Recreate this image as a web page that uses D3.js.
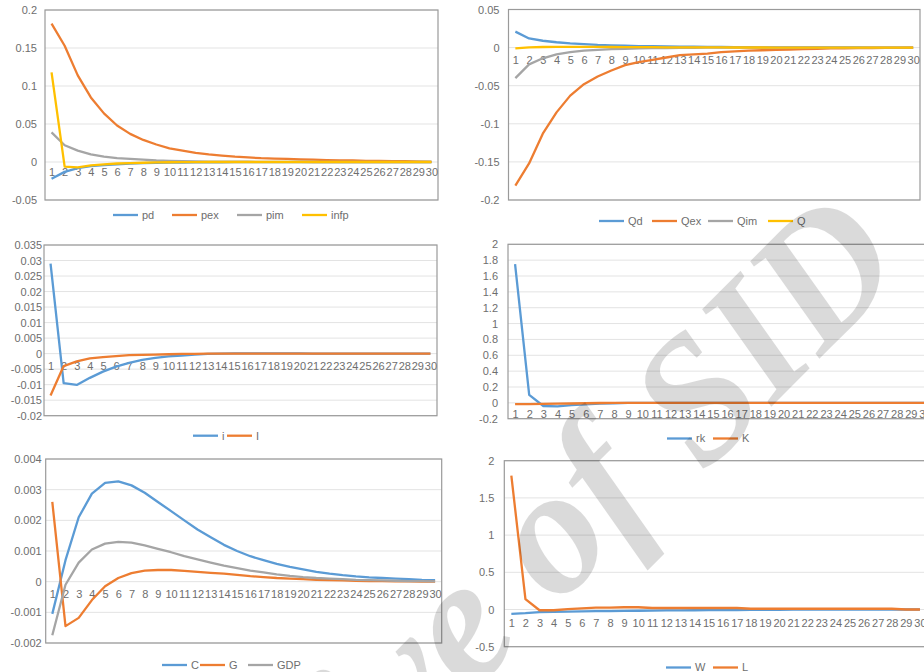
<!DOCTYPE html>
<html>
<head>
<meta charset="utf-8">
<script src="https://cdn.jsdelivr.net/npm/d3@7"></script>
<style>
  body { margin: 0; background: #fff; }
  svg { display: block; }
</style>
</head>
<body>
<svg width="924" height="672"></svg>
<script>
// periods on the x axis
var periods = [1,2,3,4,5,6,7,8,9,10,11,12,13,14,15,16,17,18,19,20,21,22,23,24,25,26,27,28,29,30];

// prices
var pd   = [-0.022,-0.013,-0.008,-0.0055,-0.004,-0.003,-0.0022,-0.0016,-0.0012,-0.0009,-0.0007,-0.0005,-0.0004,-0.0003,-0.0002,-0.0002,-0.0001,-0.0001,-0.0001,0,0,0,0,0,0,0,0,0,0,0];
var pex  = [0.182,0.153,0.114,0.085,0.064,0.048,0.037,0.029,0.023,0.018,0.015,0.012,0.010,0.0085,0.007,0.006,0.005,0.0045,0.004,0.0035,0.003,0.0025,0.002,0.002,0.0015,0.0013,0.001,0.001,0.0005,0.0002];
var pim  = [0.039,0.022,0.015,0.010,0.007,0.005,0.004,0.003,0.002,0.0015,0.001,0.0008,0.0006,0.0005,0.0004,0.0003,0.0002,0.0002,0.0001,0.0001,0,0,0,0,0,0,0,0,0,0];
var infp = [0.118,-0.006,-0.007,-0.0045,-0.003,-0.002,-0.0015,-0.001,-0.0006,-0.0003,-0.0002,-0.0001,0,0,0,0,0,0,0,0,0,0,0,0,0,0,0,0,0,0];

// quantities
var Qd  = [0.021,0.012,0.009,0.007,0.0055,0.0045,0.0035,0.003,0.0025,0.002,0.0018,0.0015,0.0013,0.0012,0.001,0.0008,0.0006,0.0005,0.0004,0.0003,0.0003,0.0002,0.0002,0.0001,0.0001,0.0001,0,0,0,0];
var Qex = [-0.181,-0.152,-0.113,-0.085,-0.063,-0.048,-0.038,-0.030,-0.023,-0.019,-0.016,-0.013,-0.010,-0.009,-0.008,-0.006,-0.005,-0.004,-0.0035,-0.003,-0.0025,-0.002,-0.0015,-0.001,-0.001,-0.0007,-0.0005,-0.0004,-0.0003,-0.0002];
var Qim = [-0.040,-0.022,-0.014,-0.009,-0.006,-0.004,-0.003,-0.002,-0.0015,-0.001,-0.0007,-0.0005,-0.0003,-0.0002,-0.0001,0,0,0,0,0,0,0,0,0,0,0,0,0,0,0];
var Q   = [-0.001,0.0004,0.0008,0.001,0.001,0.001,0.0009,0.0008,0.0007,0.0006,0.0005,0.0004,0.0003,0.0003,0.0002,0.0002,0.0001,0.0001,0.0001,0,0,0,0,0,0,0,0,0,0,0];

// interest rate and investment
var iRate = [0.029,-0.0095,-0.0101,-0.0078,-0.0058,-0.0042,-0.003,-0.002,-0.0014,-0.0009,-0.0006,-0.0003,-0.0001,0,0.0001,0.0001,0.0001,0.0001,0.0001,0.0001,0,0,0,0,0,0,0,0,0,0];
var Inv   = [-0.0135,-0.004,-0.0025,-0.0015,-0.0011,-0.0008,-0.0005,-0.0004,-0.0003,-0.0002,-0.0001,-0.0001,0,0,0,0,0,0,0,0,0,0,0,0,0,0,0,0,0,0];

// capital
var rk = [1.75,0.10,-0.04,-0.045,-0.03,-0.02,-0.01,-0.005,0,0,0,0,0,0,0,0,0,0,0,0,0,0,0,0,0,0,0,0,0,0];
var K  = [-0.015,-0.015,-0.013,-0.01,-0.008,-0.005,-0.002,0,0,0,0,0,0,0,0,0,0,0,0,0,0,0,0,0,0,0,0,0,0,0];

// demand
var C   = [-0.00105,0.0007,0.0021,0.00287,0.00322,0.00327,0.00314,0.0029,0.0026,0.0023,0.002,0.0017,0.00145,0.0012,0.001,0.00083,0.0007,0.00058,0.00048,0.0004,0.00032,0.00026,0.00021,0.00017,0.00014,0.00012,0.0001,0.00008,0.00006,0.00005];
var G   = [0.0026,-0.00145,-0.00118,-0.0006,-0.00015,0.00012,0.00028,0.00036,0.00038,0.00038,0.00035,0.00032,0.00029,0.00026,0.00022,0.00018,0.00015,0.00012,0.0001,0.00008,0.00006,0.00005,0.00004,0.00003,0.00002,0.00002,0.00001,0.00001,0,0];
var GDP = [-0.00175,-0.0001,0.00062,0.00105,0.00124,0.0013,0.00127,0.00118,0.00107,0.00096,0.00083,0.00073,0.00062,0.00052,0.00044,0.00036,0.0003,0.00024,0.00019,0.00015,0.00012,0.0001,0.00008,0.00006,0.00005,0.00004,0.00003,0.00002,0.00002,0.00001];

// labour market
var W = [-0.06,-0.05,-0.035,-0.03,-0.028,-0.025,-0.023,-0.021,-0.019,-0.017,-0.015,-0.013,-0.012,-0.01,-0.009,-0.008,-0.007,-0.006,-0.005,-0.004,-0.003,-0.002,-0.002,-0.001,-0.001,-0.001,0,0,0,0];
var L = [1.80,0.14,-0.01,-0.01,0.005,0.015,0.025,0.025,0.03,0.03,0.02,0.02,0.02,0.02,0.02,0.02,0.02,0.01,0.01,0.01,0.01,0.01,0.01,0.01,0.01,0.01,0.01,0.01,0,0];

// y tick labels for each panel
var ticks1 = [-0.05,0,0.05,0.1,0.15,0.2];
var ticks2 = [-0.2,-0.15,-0.1,-0.05,0,0.05];
var ticks3 = [-0.02,-0.015,-0.01,-0.005,0,0.005,0.01,0.015,0.02,0.025,0.03,0.035];
var ticks4 = [-0.2,0,0.2,0.4,0.6,0.8,1,1.2,1.4,1.6,1.8,2];
var ticks5 = [-0.002,-0.001,0,0.001,0.002,0.003,0.004];
var ticks6 = [-0.5,0,0.5,1,1.5,2];

var blue = "#5b9bd5", orange = "#ed7d31", gray = "#a5a5a5", yellow = "#ffc000";

// layout of the six panels (lx = where each legend entry starts)
var panels = [
  {x0:45, x1:438, y0:10, y1:200, ticks:ticks1, pad:8, xoff:10, lx:[113,172,237,302], ly:215,
   series:[{name:"pd",v:pd,c:blue},{name:"pex",v:pex,c:orange},{name:"pim",v:pim,c:gray},{name:"infp",v:infp,c:yellow}]},
  {x0:508.5, x1:920, y0:9.5, y1:200, ticks:ticks2, pad:9, xoff:12.5, lx:[599,652,708,768], ly:221,
   series:[{name:"Qd",v:Qd,c:blue},{name:"Qex",v:Qex,c:orange},{name:"Qim",v:Qim,c:gray},{name:"Q",v:Q,c:yellow}]},
  {x0:44, x1:437, y0:245, y1:415.7, ticks:ticks3, pad:2, xoff:12.5, lx:[193,227], ly:435.7,
   series:[{name:"i",v:iRate,c:blue},{name:"I",v:Inv,c:orange}]},
  {x0:508, x1:932, y0:244.3, y1:418.7, ticks:ticks4, pad:10, xoff:11.5, lx:[667,713], ly:438.5,
   series:[{name:"rk",v:rk,c:blue},{name:"K",v:K,c:orange}]},
  {x0:45.7, x1:441.7, y0:459, y1:643, ticks:ticks5, pad:4, xoff:12.5, lx:[162,200,248], ly:665,
   series:[{name:"C",v:C,c:blue},{name:"G",v:G,c:orange},{name:"GDP",v:GDP,c:gray}]},
  {x0:504.3, x1:927, y0:460.7, y1:646.7, ticks:ticks6, pad:10, xoff:13.5, lx:[666,713], ly:667.5,
   series:[{name:"W",v:W,c:blue},{name:"L",v:L,c:orange}]}
];

var svg = d3.select("svg");
var fmt = function(d) { return String(+d.toFixed(6)); };
var font = "'Liberation Sans', Arial, sans-serif";
var labelColor = "#6e6e6e";

panels.forEach(function(p) {
  var g = svg.append("g")
    .style("font-family", font)
    .style("font-size", "11px");

  var x = d3.scalePoint()
    .domain(periods)
    .range([p.x0, p.x1])
    .padding(0.5);

  var y = d3.scaleLinear()
    .domain([d3.min(p.ticks), d3.max(p.ticks)])
    .range([p.y1, p.y0]);

  // gridlines
  g.selectAll(".grid")
    .data(p.ticks)
    .enter().append("line")
    .attr("class", "grid")
    .attr("x1", p.x0).attr("x2", p.x1)
    .attr("y1", function(d) { return y(d); })
    .attr("y2", function(d) { return y(d); })
    .attr("stroke", "#e3e3e3")
    .attr("stroke-width", 1);

  // plot border
  g.append("rect")
    .attr("x", p.x0).attr("y", p.y0)
    .attr("width", p.x1 - p.x0).attr("height", p.y1 - p.y0)
    .attr("fill", "none")
    .attr("stroke", "#9a9a9a")
    .attr("stroke-width", 1.2);

  // y axis labels
  var ya = g.append("g")
    .attr("transform", "translate(" + p.x0 + ",0)")
    .call(d3.axisLeft(y).tickValues(p.ticks).tickSize(0).tickPadding(p.pad).tickFormat(fmt));
  ya.select(".domain").remove();
  ya.selectAll("text").attr("fill", labelColor).style("font-size", "11px").style("font-family", font);

  // x axis labels next to zero
  var xa = g.append("g")
    .attr("transform", "translate(0," + y(0) + ")")
    .call(d3.axisBottom(x).tickSize(0).tickPadding(0));
  xa.select(".domain").remove();
  xa.selectAll("text")
    .attr("y", p.xoff).attr("dy", "0.35em")
    .attr("fill", labelColor).style("font-size", "11px").style("font-family", font);

  // series lines
  var line = d3.line()
    .x(function(d, k) { return x(periods[k]); })
    .y(function(d) { return y(d); });

  p.series.forEach(function(s) {
    g.append("path")
      .datum(s.v)
      .attr("d", line)
      .attr("fill", "none")
      .attr("stroke", s.c)
      .attr("stroke-width", 2.3)
      .attr("stroke-linejoin", "round");
  });

  // legend
  p.series.forEach(function(s, k) {
    var lx = p.lx[k];
    g.append("line")
      .attr("x1", lx).attr("x2", lx + 25)
      .attr("y1", p.ly).attr("y2", p.ly)
      .attr("stroke", s.c).attr("stroke-width", 2.3);
    g.append("text")
      .attr("x", lx + 29).attr("y", p.ly).attr("dy", "0.35em")
      .attr("fill", labelColor)
      .text(s.name);
  });
});

// watermark
var wm = function(txt, tx, ty, anchor, len) {
  var t = svg.append("text")
    .attr("transform", "translate(" + tx + "," + ty + ") rotate(-45)")
    .attr("text-anchor", anchor)
    .style("font-family", "'Liberation Serif', 'Times New Roman', serif")
    .style("font-weight", "bold")
    .style("font-style", "italic")
    .style("font-size", "180px")
    .attr("fill", "#000")
    .attr("opacity", 0.14)
    .text(txt);
  if (len) t.attr("textLength", len).attr("lengthAdjust", "spacingAndGlyphs");
};
wm("SID", 704, 474, "start", 290);
wm("Archive of", 663, 501, "end");
</script>
</body>
</html>
